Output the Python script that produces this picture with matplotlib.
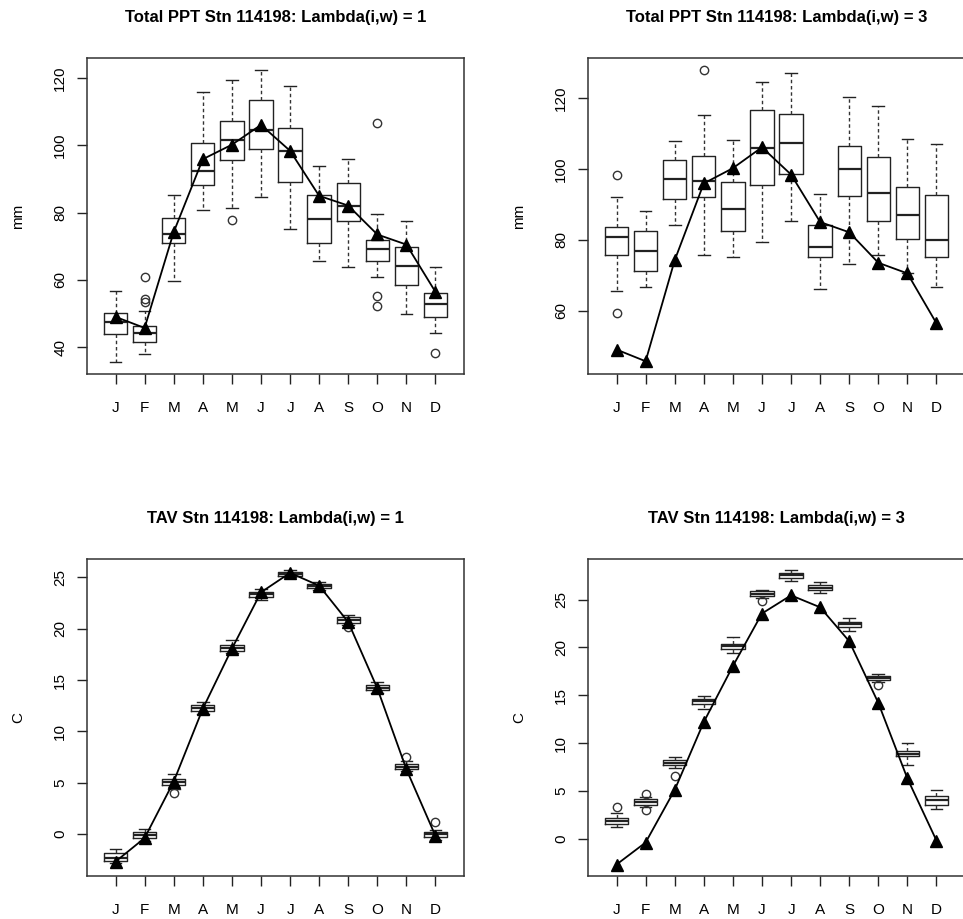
import matplotlib
matplotlib.use("Agg")
import matplotlib.pyplot as plt

plt.rcParams['font.family'] = ['Liberation Sans', 'DejaVu Sans']

months = ['J', 'F', 'M', 'A', 'M', 'J', 'J', 'A', 'S', 'O', 'N', 'D']

# Observed monthly means
ppt_obs = [49.0, 45.7, 74.2, 95.9, 100.2, 106.1, 98.4, 85.0, 82.1, 73.5, 70.5, 56.4]
tav_obs = [-2.7, -0.4, 5.1, 12.2, 18.05, 23.55, 25.45, 24.2, 20.65, 14.2, 6.3, -0.2]

# Simulated precipitation, Lambda(i,w) = 1
ppt1_lo = [35.5, 37.9, 59.6, 80.9, 81.4, 84.7, 75.0, 65.7, 63.9, 60.8, 49.7, 44.3]
ppt1_q1 = [43.8, 41.5, 70.9, 88.1, 95.7, 98.9, 89.1, 71.0, 77.5, 65.6, 58.4, 49.0]
ppt1_med = [47.4, 44.3, 73.5, 92.5, 101.7, 104.7, 98.4, 78.1, 81.9, 69.2, 64.1, 52.7]
ppt1_q3 = [50.2, 46.2, 78.4, 100.7, 107.2, 113.4, 105.1, 85.1, 88.8, 72.0, 69.8, 56.1]
ppt1_hi = [56.8, 50.7, 85.2, 115.8, 119.4, 122.4, 117.6, 94.0, 95.9, 79.6, 77.4, 63.9]
ppt1_out = [[], [60.8, 54.4, 53.5], [], [], [77.8], [], [], [], [],
            [106.8, 55.3, 52.2], [], [38.2]]

# Simulated precipitation, Lambda(i,w) = 3
ppt3_lo = [65.6, 66.7, 84.2, 75.7, 75.2, 79.5, 85.2, 66.1, 73.2, 75.8, 70.6, 66.7]
ppt3_q1 = [75.8, 71.3, 91.4, 92.0, 82.4, 95.4, 98.6, 75.0, 92.4, 85.2, 80.2, 75.0]
ppt3_med = [80.8, 76.8, 97.1, 96.5, 88.7, 105.9, 107.3, 78.0, 100.0, 93.2, 86.9, 80.0]
ppt3_q3 = [83.6, 82.6, 102.6, 103.7, 96.3, 116.7, 115.4, 84.3, 106.5, 103.3, 95.0, 92.5]
ppt3_hi = [92.2, 88.0, 107.8, 115.2, 108.2, 124.5, 127.2, 93.0, 120.3, 117.8, 108.4, 107.0]
ppt3_out = [[98.3, 59.3], [], [], [128.0], [], [], [], [], [], [], [], []]

# Simulated mean temperature, Lambda(i,w) = 1
tav1_lo = [-2.85, -0.7, 4.4, 11.7, 17.6, 22.8, 25.0, 23.8, 20.4, 13.7, 6.1, -0.55]
tav1_q1 = [-2.6, -0.4, 4.8, 12.0, 17.8, 23.1, 25.1, 24.0, 20.6, 14.0, 6.3, -0.3]
tav1_med = [-2.3, -0.1, 5.1, 12.3, 18.1, 23.4, 25.3, 24.2, 20.85, 14.25, 6.55, 0.0]
tav1_q3 = [-1.9, 0.2, 5.4, 12.6, 18.4, 23.6, 25.5, 24.4, 21.1, 14.5, 6.8, 0.2]
tav1_hi = [-1.5, 0.5, 5.8, 12.9, 18.9, 23.9, 25.7, 24.6, 21.3, 14.8, 7.1, 0.4]
tav1_out = [[], [], [3.95], [], [], [], [], [], [20.2], [], [7.5], [1.2]]

# Simulated mean temperature, Lambda(i,w) = 3
tav3_lo = [1.2, 3.35, 7.4, 13.55, 19.4, 25.2, 26.9, 25.7, 21.7, 16.35, 7.7, 3.1]
tav3_q1 = [1.55, 3.5, 7.7, 14.1, 19.8, 25.35, 27.3, 26.0, 22.1, 16.55, 8.6, 3.55]
tav3_med = [1.9, 3.8, 7.95, 14.35, 20.1, 25.6, 27.55, 26.2, 22.5, 16.8, 8.9, 4.0]
tav3_q3 = [2.2, 4.1, 8.2, 14.6, 20.4, 25.9, 27.8, 26.5, 22.7, 17.0, 9.2, 4.5]
tav3_hi = [2.65, 4.4, 8.5, 14.9, 21.1, 26.05, 28.1, 26.8, 23.1, 17.25, 10.05, 5.1]
tav3_out = [[3.3], [4.65, 3.0], [6.6], [], [], [24.9], [], [], [], [16.1], [], []]

W, H = 963, 919
fig = plt.figure(figsize=(W / 100, H / 100), dpi=100)


def px_axes(left, top, width, height):
    return fig.add_axes([left / W, 1 - (top + height) / H, width / W, height / H])


def panel(ax, lo, q1, med, q3, hi, out, obs, ylim, yticks, title, ylabel):
    stats = []
    for i in range(len(months)):
        stats.append(dict(whislo=lo[i], q1=q1[i], med=med[i], q3=q3[i],
                          whishi=hi[i], fliers=out[i]))
    pos = list(range(1, len(months) + 1))
    ax.bxp(stats, positions=pos, widths=0.8, showfliers=True,
           boxprops=dict(color='#222222', linewidth=1.0),
           medianprops=dict(color='#222222', linewidth=1.6),
           whiskerprops=dict(color='#333333', linewidth=1.0, linestyle=(0, (2.5, 2))),
           capprops=dict(color='#222222', linewidth=1.0),
           capwidths=0.4,
           flierprops=dict(marker='o', markerfacecolor='none', markeredgecolor='#333333',
                           markersize=6, markeredgewidth=1.0, linestyle='none'))
    ax.plot(pos, obs, color='black', linewidth=1.3, marker='^', markersize=8,
            markerfacecolor='black', markeredgecolor='black', zorder=5)
    ax.set_xlim(0.02, 12.98)
    ax.set_ylim(*ylim)
    ax.set_yticks(yticks)
    ax.set_xticks(pos)
    ax.set_xticklabels(months)
    ax.tick_params(axis='both', direction='out', length=7.2, width=1.0,
                   labelsize=11, color='#222222')
    ax.tick_params(axis='x', pad=12)
    ax.tick_params(axis='y', pad=7)
    for lab in ax.get_yticklabels():
        lab.set_rotation(90)
        lab.set_va('center')
    for sp in ax.spines.values():
        sp.set_linewidth(1.1)
        sp.set_color('#333333')
    ax.set_ylabel(ylabel, fontsize=11)
    ax.yaxis.set_label_coords(-62 / 377, 0.5)
    ax.annotate(title, xy=(0.5, 1.0), xycoords='axes fraction',
                xytext=(0, 40 * 0.72), textcoords='offset points',
                ha='center', va='center', fontsize=12, fontweight='bold')


ax1 = px_axes(87, 58, 377, 316)
ax2 = px_axes(588, 58, 377, 316)
ax3 = px_axes(87, 559, 377, 317)
ax4 = px_axes(588, 559, 377, 317)

panel(ax1, ppt1_lo, ppt1_q1, ppt1_med, ppt1_q3, ppt1_hi, ppt1_out, ppt_obs,
      (32.0, 126.0), [40, 60, 80, 100, 120],
      'Total PPT Stn 114198: Lambda(i,w) = 1', 'mm')
panel(ax2, ppt3_lo, ppt3_q1, ppt3_med, ppt3_q3, ppt3_hi, ppt3_out, ppt_obs,
      (42.1, 131.3), [60, 80, 100, 120],
      'Total PPT Stn 114198: Lambda(i,w) = 3', 'mm')
panel(ax3, tav1_lo, tav1_q1, tav1_med, tav1_q3, tav1_hi, tav1_out, tav_obs,
      (-4.1, 26.8), [0, 5, 10, 15, 20, 25],
      'TAV Stn 114198: Lambda(i,w) = 1', 'C')
panel(ax4, tav3_lo, tav3_q1, tav3_med, tav3_q3, tav3_hi, tav3_out, tav_obs,
      (-3.9, 29.25), [0, 5, 10, 15, 20, 25],
      'TAV Stn 114198: Lambda(i,w) = 3', 'C')

fig.savefig('out.png', dpi=100)
